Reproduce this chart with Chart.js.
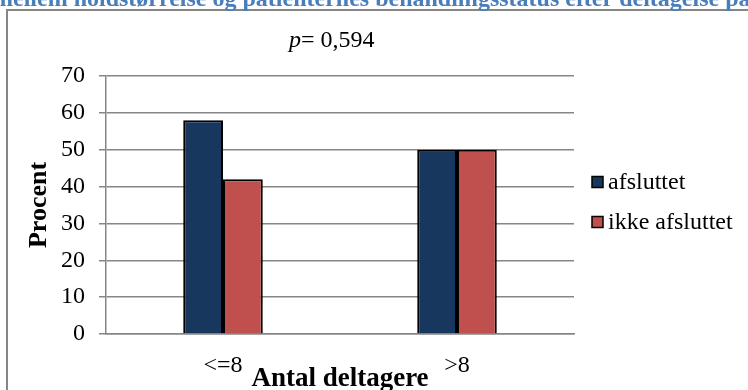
<!DOCTYPE html>
<html>
<head>
<meta charset="utf-8">
<script src="https://cdn.jsdelivr.net/npm/chart.js@4"></script>
<style>
  html, body { margin: 0; padding: 0; background: #fff; }
  #wrap { width: 748px; height: 390px; }
</style>
</head>
<body>
<div id="wrap"><canvas id="myChart" width="748" height="390"></canvas></div>
<script>
// data
var kategorier = ["<=8", ">8"];
var afsluttet = [58, 50];
var ikkeAfsluttet = [42, 50];
var yTicks = [0, 10, 20, 30, 40, 50, 60, 70];
var titel = "mellem holdstørrelse og patienternes behandlingsstatus efter deltagelse på";
var pTekst = "0,594";
var xTitel = "Antal deltagere";

var serif = "'Liberation Serif', 'Times New Roman', serif";

//! ramme, titler, p-værdi og signaturforklaring
var pynt = {
  id: "pynt",
  beforeDraw(chart) {
    var ctx = chart.ctx;
    ctx.save();
    ctx.fillStyle = "#fff";
    ctx.fillRect(0, 0, chart.width, chart.height);
    ctx.strokeStyle = "#868686";
    ctx.lineWidth = 2;
    ctx.beginPath();
    ctx.moveTo(7, chart.height);
    ctx.lineTo(7, 10);
    ctx.lineTo(chart.width, 10);
    ctx.stroke();
    ctx.restore();
  },
  afterDraw(chart) {
    var ctx = chart.ctx;
    var area = chart.chartArea;
    ctx.save();
    // titlen er skåret af i toppen
    ctx.font = "bold 24px " + serif;
    ctx.fillStyle = "#4a7ebb";
    ctx.textBaseline = "alphabetic";
    ctx.textAlign = "left";
    ctx.fillText(titel, -7, 6);

    ctx.fillStyle = "#000";
    ctx.font = "italic 24px " + serif;
    ctx.fillText("p", 289, 47);
    var w = ctx.measureText("p").width;
    ctx.font = "24px " + serif;
    ctx.fillText("= " + pTekst, 289 + w, 47);

    // x-aksens titel
    ctx.font = "bold 27px " + serif;
    ctx.textAlign = "center";
    ctx.fillText(xTitel, (area.left + area.right) / 2, 386);

    // signaturforklaring
    var ly = [182, 222];
    ctx.font = "24px " + serif;
    ctx.textAlign = "left";
    ctx.textBaseline = "middle";
    chart.data.datasets.forEach((ds, i) => {
      ctx.fillStyle = ds.backgroundColor;
      ctx.fillRect(592, ly[i] - 5.5, 11, 11);
      ctx.strokeStyle = "#000";
      ctx.lineWidth = 1.5;
      ctx.strokeRect(592, ly[i] - 5.5, 11, 11);
      ctx.fillStyle = "#000";
      ctx.fillText(ds.label, 608, ly[i] + 1);
    });
    ctx.restore();
  }
};

const data = {
  labels: kategorier,
  datasets: [
    {
      label: "afsluttet",
      data: afsluttet,
      backgroundColor: "#17375e",
      borderColor: "#000",
      borderWidth: 2,
    },
    {
      label: "ikke afsluttet",
      data: ikkeAfsluttet,
      backgroundColor: "#c0504d",
      borderColor: "#000",
      borderWidth: 2,
    },
  ],
};

const config = {
  type: "bar",
  data: data,
  options: {
    responsive: false,
    animation: false,
    devicePixelRatio: 1,
    categoryPercentage: 0.34,
    barPercentage: 1,
    layout: { padding: { left: 0, top: 76, right: 174, bottom: 0 } },
    plugins: {
      title: { display: false },
      tooltip: { enabled: false },
      legend: { display: false },
    },
    scales: {
      x: {
        afterFit(scale) {
          scale.height = 56;
        },
        grid: { display: false, drawTicks: false },
        border: { display: true, color: "#868686", width: 1.5 },
        ticks: { color: "#000", font: { family: serif, size: 24 }, padding: 17 },
        title: { display: false },
      },
      y: {
        min: 0,
        max: 70,
        afterBuildTicks(scale) {
          scale.ticks = yTicks.map((v) => ({ value: v }));
        },
        afterFit(scale) {
          scale.width = 106;
        },
        grid: { color: "#868686", lineWidth: 1.5, tickLength: 7, drawTicks: true },
        border: { display: true, color: "#868686", width: 1.5 },
        ticks: { color: "#000", font: { family: serif, size: 24 }, padding: 14 },
        title: {
          display: true,
          text: "Procent",
          color: "#000",
          font: { family: serif, size: 26, weight: "bold" },
          padding: { top: 24, bottom: 0 },
        },
      },
    },
  },
  plugins: [pynt],
};

const myChart = new Chart(document.getElementById("myChart"), config);
</script>
</body>
</html>
